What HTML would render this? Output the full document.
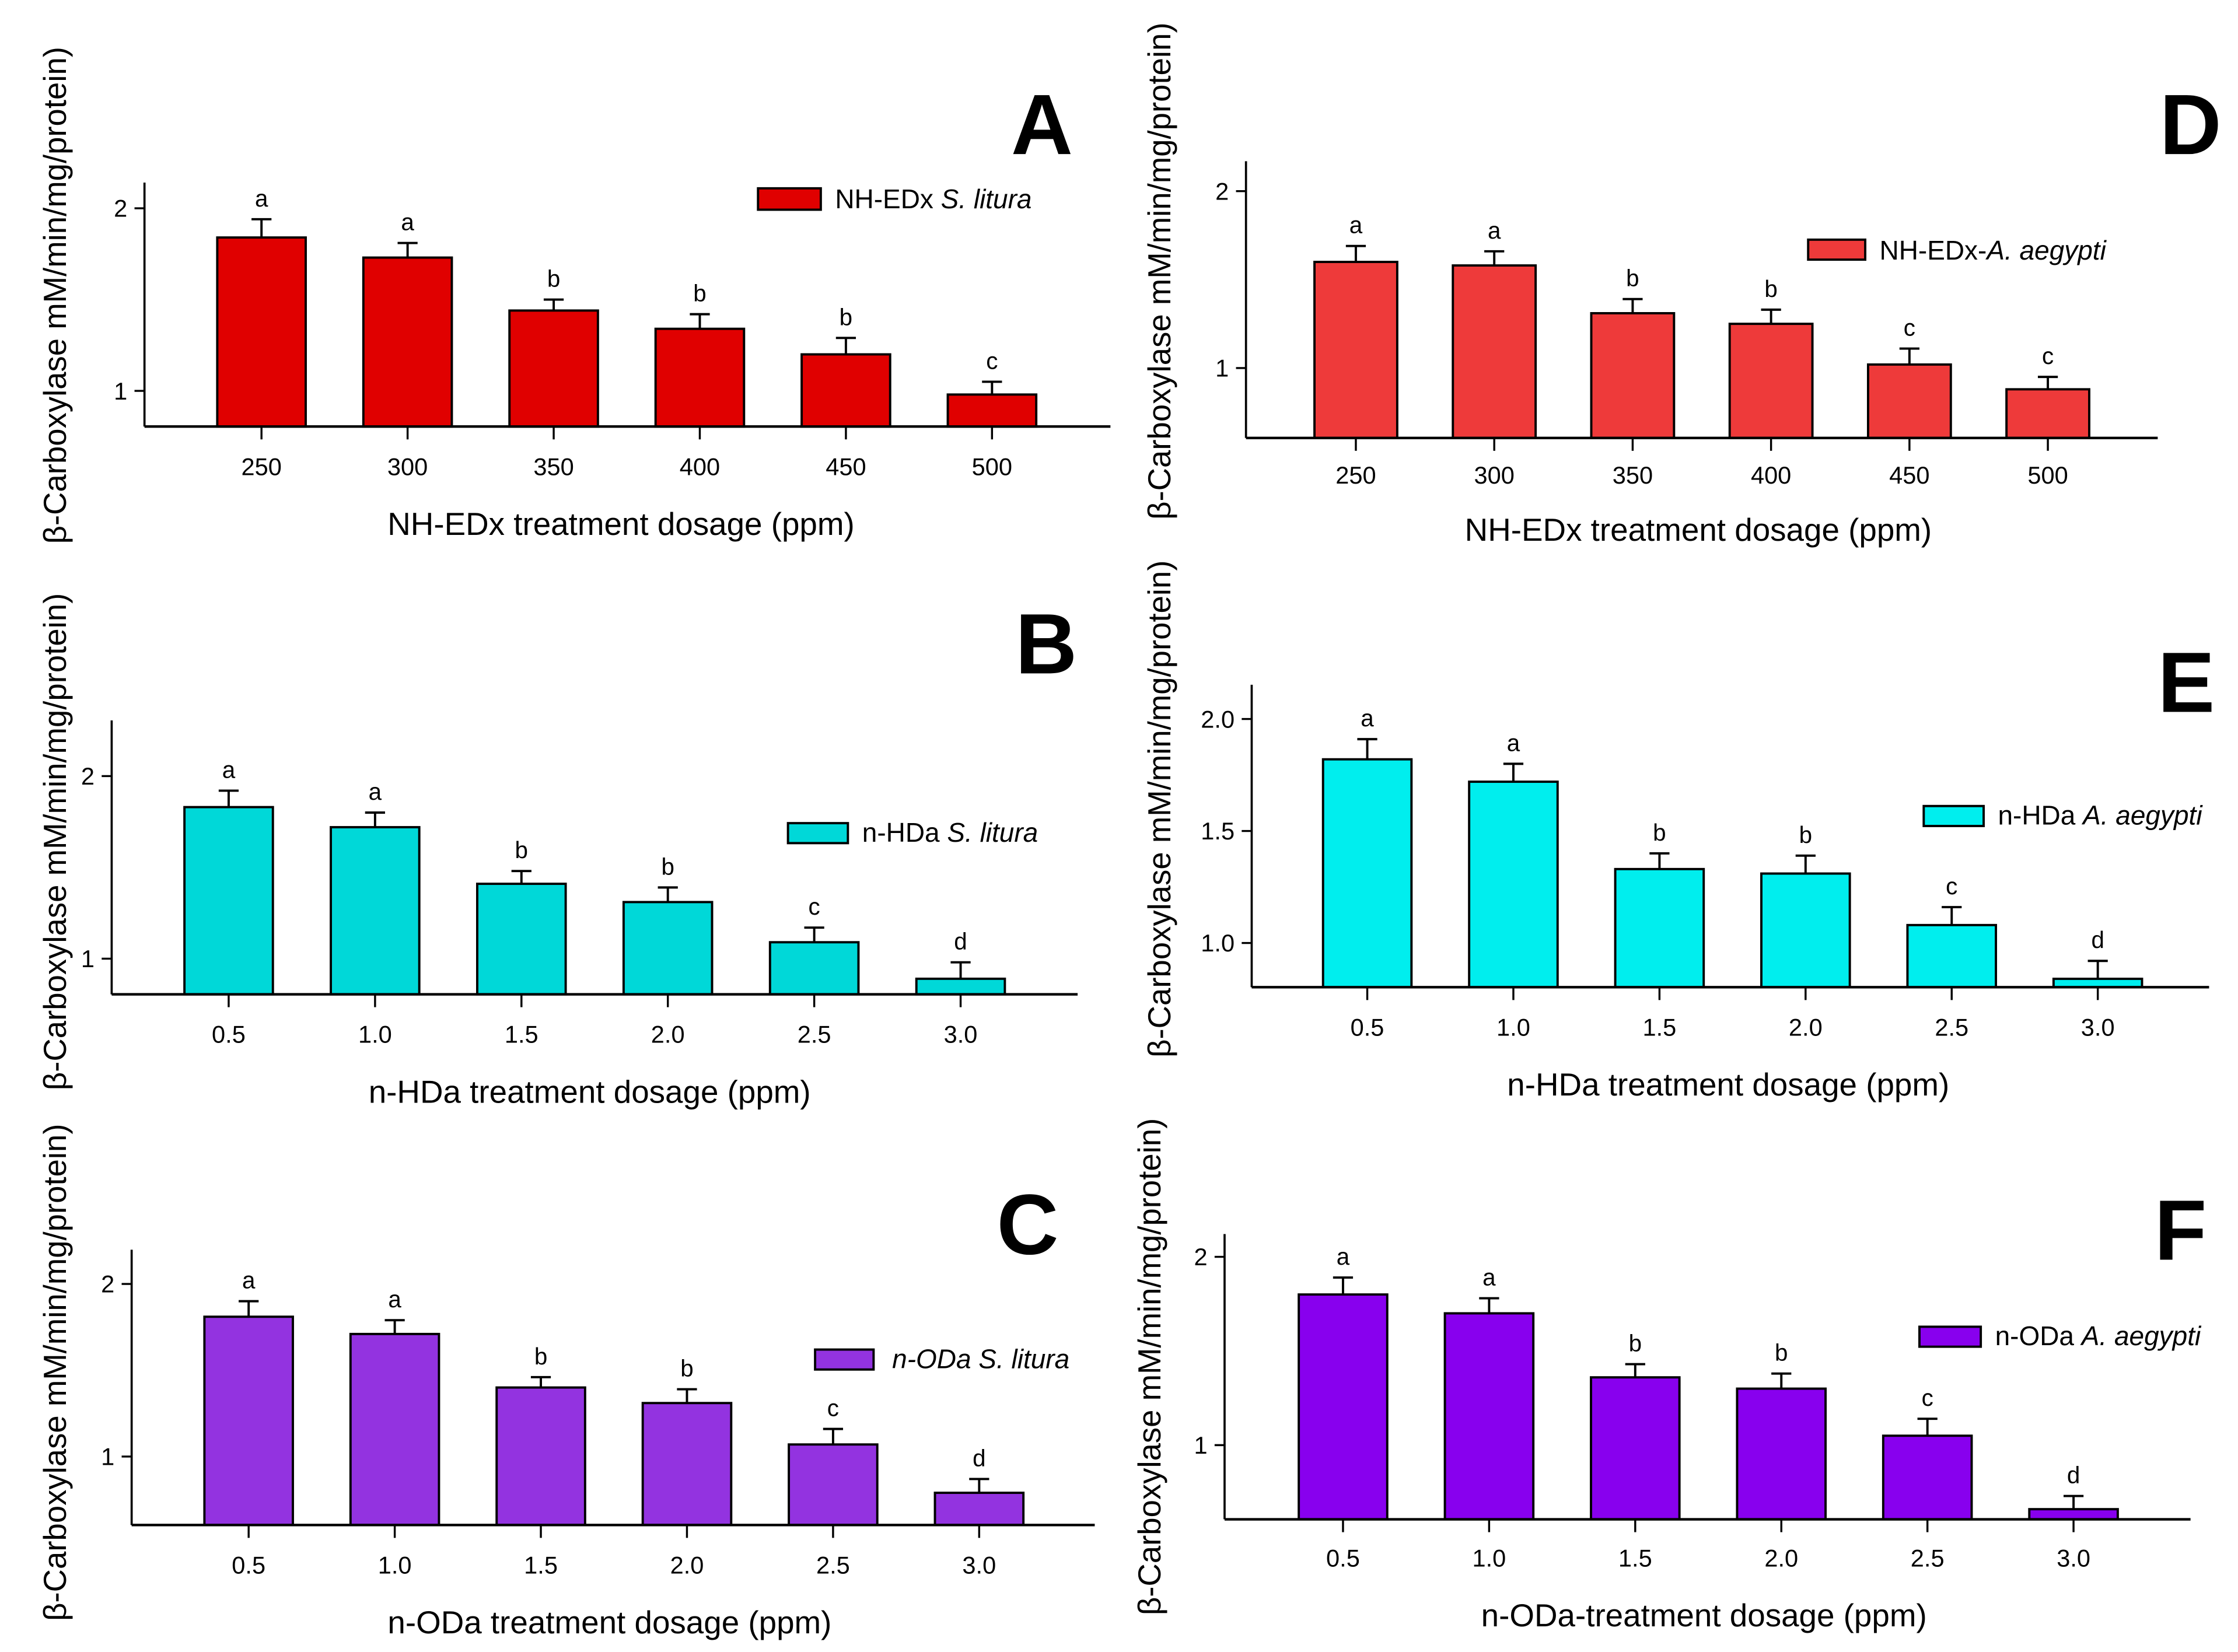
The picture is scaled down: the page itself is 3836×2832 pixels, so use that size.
<!DOCTYPE html>
<html><head><meta charset="utf-8"><style>
html,body{margin:0;padding:0;background:#fff}
svg{display:block}
text{font-family:"Liberation Sans",Arial,sans-serif;fill:#000}
</style></head><body>
<svg id="fig" width="3836" height="2832" viewBox="0 0 1568 1158" xmlns="http://www.w3.org/2000/svg"></svg>
<script>
// ---- data ----
const catsA = ["250","300","350","400","450","500"];
const catsB = ["0.5","1.0","1.5","2.0","2.5","3.0"];
const valsA = [1.84,1.73,1.44,1.34,1.20,0.98];
const errsA = [0.10,0.08,0.06,0.08,0.09,0.07];
const letA = ["a","a","b","b","b","c"];
const valsD = [1.60,1.58,1.31,1.25,1.02,0.88];
const errsD = [0.09,0.08,0.08,0.08,0.09,0.07];
const letD = ["a","a","b","b","c","c"];
const valsB = [1.83,1.72,1.41,1.31,1.09,0.89];
const errsB = [0.09,0.08,0.07,0.08,0.08,0.09];
const letB = ["a","a","b","b","c","d"];
const valsE = [1.82,1.72,1.33,1.31,1.08,0.84];
const errsE = [0.09,0.08,0.07,0.08,0.08,0.08];
const letE = ["a","a","b","b","c","d"];
const valsC = [1.81,1.71,1.40,1.31,1.07,0.79];
const errsC = [0.09,0.08,0.06,0.08,0.09,0.08];
const letC = ["a","a","b","b","c","d"];
const valsF = [1.80,1.70,1.36,1.30,1.05,0.66];
const errsF = [0.09,0.08,0.07,0.08,0.09,0.07];
const letF = ["a","a","b","b","c","d"];
const ticksAD = [1,2];
const ticksE = [1.0,1.5,2.0];

const NS="http://www.w3.org/2000/svg";
const svg=document.getElementById('fig');
function mk(tag,attrs,parent){const e=document.createElementNS(NS,tag);for(const k in attrs)e.setAttribute(k,attrs[k]);(parent||svg).appendChild(e);return e;}

const panels=[
 {id:"a",L:"A",ax:101,bot:299,top:128,right:778,t1:[1,274],t2:[2,146],x0:183,dx:102.4,bw:62,color:"#e00000",cats:catsA,vals:valsA,errs:errsA,lets:letA,ticks:ticksAD,dec:0,tickY:327,title:"NH-EDx treatment dosage (ppm)",titleX:435,titleY:367,ytX:38,ytY:207,leg:[531,132,44,15],legText:["NH-EDx ","S. litura"],legX:585,legY:140,LX:730,LY:87},
 {id:"d",L:"D",ax:873,bot:307,top:113,right:1512,t1:[1,258],t2:[2,134],x0:950,dx:97,bw:58,color:"#ee3a3a",cats:catsA,vals:valsD,errs:errsD,lets:letD,ticks:ticksAD,dec:0,tickY:333,title:"NH-EDx treatment dosage (ppm)",titleX:1190,titleY:371,ytX:812,ytY:190,leg:[1267,168,40,14],legText:["NH-EDx-","A. aegypti"],legX:1317,legY:176,LX:1535,LY:87},
 {id:"b",L:"B",ax:78,bot:697,top:505,right:755,t1:[1,672],t2:[2,544],x0:160,dx:102.6,bw:62,color:"#00d8d8",cats:catsB,vals:valsB,errs:errsB,lets:letB,ticks:ticksAD,dec:0,tickY:725,title:"n-HDa treatment dosage (ppm)",titleX:413,titleY:765,ytX:38,ytY:590,leg:[552,577,42,14],legText:["n-HDa ","S. litura"],legX:604,legY:584,LX:733,LY:451},
 {id:"e",L:"E",ax:877,bot:692,top:480,right:1548,t1:[1,661],t2:[2,504],x0:958,dx:102.4,bw:62,color:"#00eeee",cats:catsB,vals:valsE,errs:errsE,lets:letE,ticks:ticksE,dec:1,tickY:720,title:"n-HDa treatment dosage (ppm)",titleX:1211,titleY:760,ytX:812,ytY:567,leg:[1348,565,42,14],legText:["n-HDa ","A. aegypti"],legX:1400,legY:572,LX:1532,LY:478},
 {id:"c",L:"C",ax:92,bot:1069,top:876,right:767,t1:[1,1021],t2:[2,900],x0:174,dx:102.4,bw:62,color:"#9333e0",cats:catsB,vals:valsC,errs:errsC,lets:letC,ticks:ticksAD,dec:0,tickY:1097,title:"n-ODa treatment dosage (ppm)",titleX:427,titleY:1137,ytX:38,ytY:962,leg:[571,946,41,14],legText:["n-ODa ","S. litura"],legX:625,legY:953,italAll:true,LX:720,LY:858},
 {id:"f",L:"F",ax:858,bot:1065,top:865,right:1535,t1:[1,1013],t2:[2,881],x0:941,dx:102.4,bw:62,color:"#8800ee",cats:catsB,vals:valsF,errs:errsF,lets:letF,ticks:ticksAD,dec:0,tickY:1092,title:"n-ODa-treatment dosage (ppm)",titleX:1194,titleY:1132,ytX:805,ytY:958,leg:[1345,930,43,14],legText:["n-ODa ","A. aegypti"],legX:1398,legY:937,LX:1528,LY:862}
];

panels.forEach(p=>{
 const g=mk('g',{});
 
 
 const k=(p.t2[1]-p.t1[1])/(p.t2[0]-p.t1[0]);
 const y=v=>p.t1[1]+(v-p.t1[0])*k;
 const x=i=>p.x0+i*p.dx;
 p.vals.forEach((v,i)=>{
  const e=p.errs[i];
  const ln=mk('line',{x1:x(i),x2:x(i),y1:y(v),y2:y(v+e),stroke:'#000','stroke-width':1.6},g);
  
  
  const cap=mk('line',{x1:x(i)-7,x2:x(i)+7,y1:y(v+e),y2:y(v+e),stroke:'#000','stroke-width':1.6},g);
  
  
  const r=mk('rect',{x:x(i)-p.bw/2,y:y(v),width:p.bw,height:p.bot-y(v),fill:p.color,stroke:'#000','stroke-width':1.6},g);
  
  
  const t=mk('text',{x:x(i),y:y(v+e)-9,'text-anchor':'middle','font-size':16.5},g);
  t.textContent=p.lets[i];
  
  
  const tk=mk('line',{x1:x(i),x2:x(i),y1:p.bot,y2:p.bot+9,stroke:'#000','stroke-width':1.4},g);
  
  
  const tl=mk('text',{x:x(i),y:p.tickY+6,'text-anchor':'middle','font-size':17},g);
  tl.textContent=p.cats[i];
  
  
 });
 const ya=mk('line',{x1:p.ax,x2:p.ax,y1:p.top,y2:p.bot,stroke:'#000','stroke-width':1.5},g);
 
 
 const xa=mk('line',{x1:p.ax,x2:p.right,y1:p.bot,y2:p.bot,stroke:'#000','stroke-width':1.8},g);
 
 
 p.ticks.forEach(v=>{
  const t=mk('line',{x1:p.ax-7,x2:p.ax,y1:y(v),y2:y(v),stroke:'#000','stroke-width':1.4},g);
  
  
  const l=mk('text',{x:p.ax-12,y:y(v)+6,'text-anchor':'end','font-size':17},g);
  l.textContent=v.toFixed(p.dec);
  
  
 });
 const xt=mk('text',{x:p.titleX,y:p.titleY+8,'text-anchor':'middle','font-size':22.4},g);
 xt.textContent=p.title;
 
 
 const yt=mk('text',{x:0,y:0,'text-anchor':'middle','font-size':22.3,transform:`translate(${p.ytX+8},${p.ytY}) rotate(-90)`},g);
 yt.textContent='β-Carboxylase mM/min/mg/protein)';
 
 
 const lr=mk('rect',{x:p.leg[0],y:p.leg[1],width:p.leg[2],height:p.leg[3],fill:p.color,stroke:'#000','stroke-width':1.6},g);
 
 
 const lt=mk('text',{x:p.legX,y:p.legY+6,'font-size':18.8},g);
 
 
 const s1=mk('tspan',{},lt); s1.textContent=p.legText[0]; if(p.italAll) s1.setAttribute('font-style','italic');
 const s2=mk('tspan',{'font-style':'italic'},lt); s2.textContent=p.legText[1];
 const pl=mk('text',{x:p.LX,y:p.LY+21,'text-anchor':'middle','font-size':60,'font-weight':'bold'},g);
 pl.textContent=p.L;
 
 
});
</script>
</body></html>
